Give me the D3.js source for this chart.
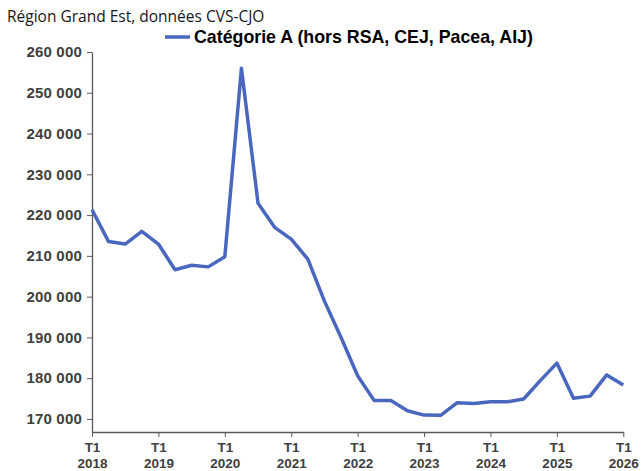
<!DOCTYPE html>
<html lang="fr">
<head>
  <meta charset="UTF-8">
  <title>Catégorie A - Grand Est</title>
  <style>
    body { margin: 0; background: #fff; }
    svg text { font-family: "Liberation Sans", Arial, sans-serif; }
  </style>
  <script src="https://cdn.jsdelivr.net/npm/d3@7"></script>
</head>
<body>
  <script>
    // quarterly values, T1 2018 .. T1 2026
    var years = [2018, 2019, 2020, 2021, 2022, 2023, 2024, 2025, 2026];
    var values = [
      221300, 213500, 212900, 216000,
      212900, 206600, 207700, 207300,
      209800, 256000, 222900, 217000,
      214100, 209200, 198900, 190000,
      180600, 174500, 174500, 172000,
      170950, 170900, 174000, 173800,
      174200, 174200, 174900, 179400,
      183700, 175100, 175600, 180800,
      178300
    ];
    var yTicks = [170000, 180000, 190000, 200000, 210000, 220000, 230000, 240000, 250000, 260000];
    var seriesName = "Catégorie A (hors RSA, CEJ, Pacea, AIJ)";
    var subtitle = "Région Grand Est, données CVS-CJO";

    var W = 641, H = 471;
    var m = { left: 92, right: 623.3, top: 52, bottom: 432 };
    var axisColor = "#595959";
    var lineColor = "#4A67C0";

    var svg = d3.select("body").append("svg").attr("width", W).attr("height", H);

    var x = d3.scaleLinear().domain([0, values.length - 1]).range([m.left, m.right]);
    var y = d3.scaleLinear().domain([166800, 260000]).range([m.bottom, m.top]);

    var fmt = function(d) { return d3.format(",")(d).replace(/,/g, " "); };

    // y axis
    var gy = svg.append("g")
      .attr("transform", "translate(" + m.left + ",0)")
      .call(d3.axisLeft(y).tickValues(yTicks).tickSize(5).tickSizeOuter(0).tickFormat(fmt));
    gy.select(".domain").attr("stroke", axisColor).attr("stroke-width", 1.3);
    gy.selectAll(".tick line").attr("stroke", axisColor);
    gy.selectAll(".tick text")
      .attr("x", -10)
      .attr("fill", "#404040")
      .style("font-size", "15px")
      .style("font-weight", "bold")
      .style("letter-spacing", "0.2px");

    // x axis
    var gx = svg.append("g")
      .attr("transform", "translate(0," + m.bottom + ")")
      .call(d3.axisBottom(x).tickValues(years.map(function(d, i) { return i * 4; }))
        .tickSize(5).tickSizeOuter(0).tickFormat(""));
    gx.select(".domain").attr("stroke", axisColor).attr("stroke-width", 1.3);
    gx.selectAll(".tick line").attr("stroke", axisColor);
    gx.selectAll(".tick").each(function(d, i) {
      var t = d3.select(this).append("text")
        .attr("fill", "#404040")
        .attr("text-anchor", "middle")
        .style("font-size", "13.5px")
        .style("font-weight", "bold");
      t.append("tspan").attr("x", 0).attr("y", 20).text("T1");
      t.append("tspan").attr("x", 0).attr("y", 36).text(years[i]);
    });

    // line
    var line = d3.line()
      .x(function(d, i) { return x(i); })
      .y(function(d) { return y(d); });

    svg.append("path")
      .datum(values)
      .attr("fill", "none")
      .attr("stroke", lineColor)
      .attr("stroke-width", 3.5)
      .attr("stroke-linejoin", "round")
      .attr("d", line);

    // subtitle
    svg.append("text")
      .attr("x", 7)
      .attr("y", 22)
      .attr("fill", "#161616")
      .style("font-family", "'Open Sans', sans-serif")
      .style("font-size", "15.5px")
      .text(subtitle);

    // legend
    svg.append("line")
      .attr("x1", 165).attr("x2", 190)
      .attr("y1", 37).attr("y2", 37)
      .attr("stroke", lineColor)
      .attr("stroke-width", 3.5);
    svg.append("text")
      .attr("x", 194)
      .attr("y", 43)
      .attr("fill", "#000")
      .style("font-size", "17.8px")
      .style("font-weight", "bold")
      .text(seriesName);
  </script>
</body>
</html>
